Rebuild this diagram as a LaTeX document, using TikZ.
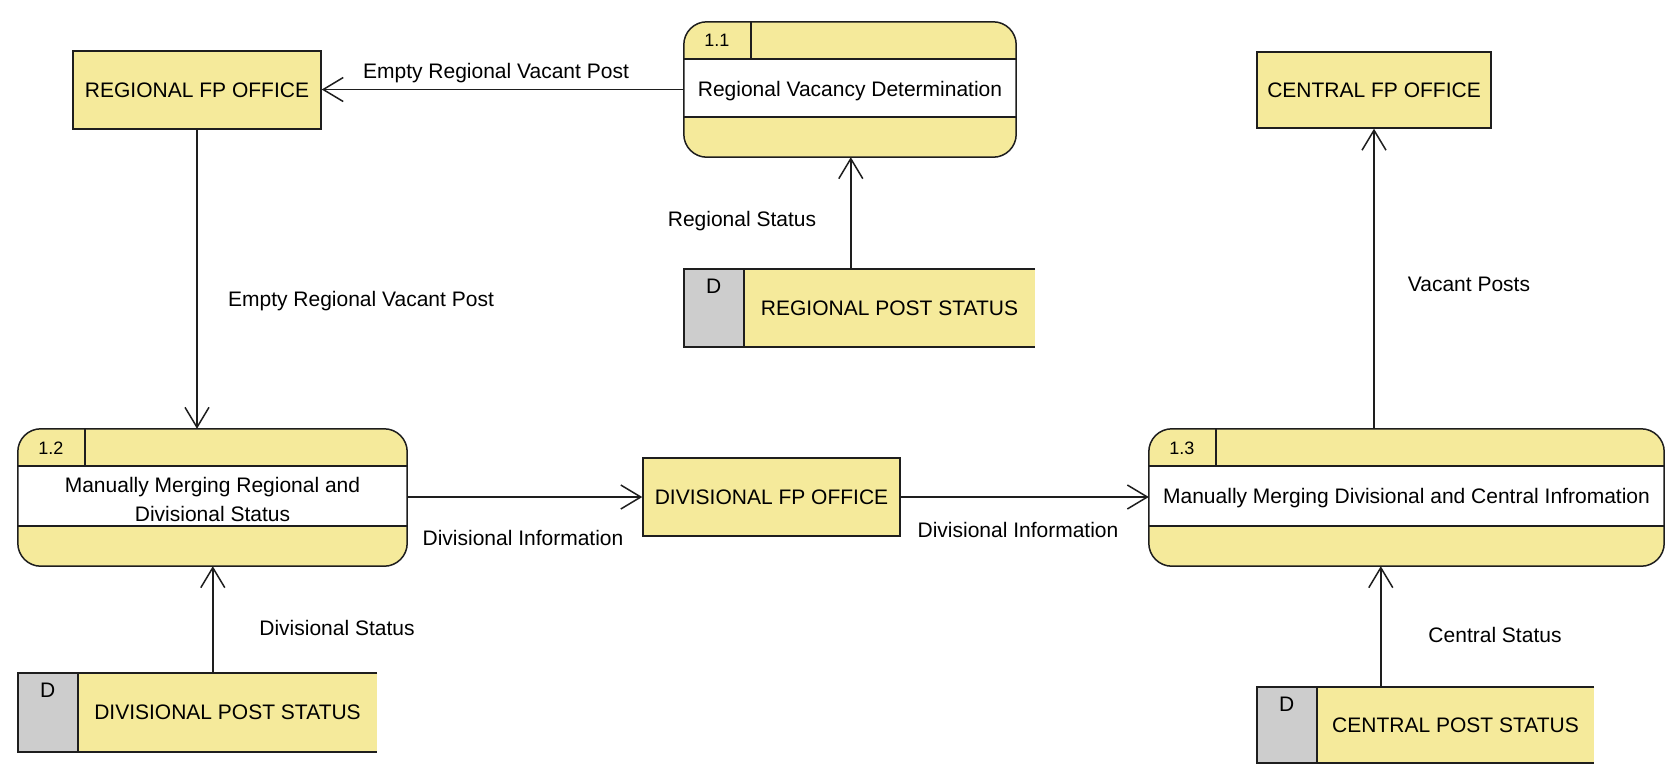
\documentclass[tikz,border=0pt]{standalone}
\usepackage{fontspec}
\setmainfont{Liberation Sans}
\usetikzlibrary{arrows.meta}
\definecolor{fy}{RGB}{245,234,155}
\definecolor{dg}{RGB}{205,205,205}
\definecolor{ln}{RGB}{30,30,30}

\newcommand\mkproc[5]{%
  \node[proc, minimum width=#3, minimum height=#4, rounded corners=23pt] (#1) at (#2) {};
  \fill[white] ([yshift=-37pt]#1.north west) rectangle ([yshift=40pt]#1.south east);
  \draw[bline] ([yshift=-37pt]#1.north west) -- ([yshift=-37pt]#1.north east);
  \draw[bline] ([yshift=40pt]#1.south west) -- ([yshift=40pt]#1.south east);
  \draw[bline] ([xshift=67pt]#1.north west) -- ([xshift=67pt,yshift=-37pt]#1.north west);
  \node[num] (#1n) at ([xshift=33pt,yshift=-19pt]#1.north west) {#5};
  \draw[bline, rounded corners=23pt] (#1.north west) rectangle (#1.south east);
}
\newcommand\mkstore[5]{%
  \node[store, minimum width=#3, minimum height=#4] (#1) at (#2) {};
  \fill[dg] (#1.north west) rectangle ([xshift=60pt]#1.south west);
  \draw[bline] (#1.north east) -- (#1.north west) -- (#1.south west) -- (#1.south east);
  \draw[bline] ([xshift=60pt]#1.north west) -- ([xshift=60pt]#1.south west);
  \node[txt] (#1d) at ([xshift=30pt,yshift=-17pt]#1.north west) {D};
  \node[txt] (#1t) at ([xshift=30pt]#1.center) {#5};
}

\begin{document}
\begin{tikzpicture}[x=1pt,y=-1pt,
  txt/.style={font=\fontsize{21}{29}\selectfont, text=black, inner sep=0pt},
  ent/.style={txt, draw=ln, fill=fy, line width=1.5pt},
  proc/.style={fill=fy, inner sep=0pt},
  store/.style={fill=fy, inner sep=0pt},
  lbl/.style={txt, anchor=base},
  num/.style={font=\fontsize{18}{20}\selectfont, inner sep=0pt},
  bline/.style={draw=ln, line width=1.5pt},
  flow/.style={draw=ln, line width=1.5pt, -{Straight Barb[length=20pt,width=24pt,line width=1.5pt]}}
]
\useasboundingbox (0,0) rectangle (1670,769);
\fill[white] (0,0) rectangle (1670,769);

% processes
\mkproc{p11}{850,89.5}{332pt}{135pt}{1.1}
\mkproc{p12}{212.5,497.5}{389pt}{137pt}{1.2}
\mkproc{p13}{1406.5,497.5}{515pt}{137pt}{1.3}
\node[txt, anchor=base] (p11t) at ([yshift=-75pt]p11.north) {Regional Vacancy Determination};
\node[txt, align=center] (p12t) at ([yshift=-2pt]p12.center) {Manually Merging Regional and\\Divisional Status};
\node[txt, anchor=base] (p13t) at ([yshift=-75pt]p13.north) {Manually Merging Divisional and Central Infromation};

% external entities
\node[ent, minimum width=248pt, minimum height=78pt] (rfp) at (197,90) {REGIONAL FP OFFICE};
\node[ent, minimum width=234pt, minimum height=76pt] (cfp) at (1374,90) {CENTRAL FP OFFICE};
\node[ent, minimum width=257pt, minimum height=78pt] (dfp) at (771.5,497) {DIVISIONAL FP OFFICE};

% data stores
\mkstore{rst}{859.5,308}{351pt}{78pt}{REGIONAL POST STATUS}
\mkstore{dst}{197.5,712.5}{359pt}{79pt}{DIVISIONAL POST STATUS}
\mkstore{cst}{1425.5,725}{337pt}{76pt}{CENTRAL POST STATUS}

% flows
\draw[flow] (p11.west) -- (p11.west -| rfp.east);
\draw[flow] (rfp.south) -- (rfp.south |- p12.north);
\draw[flow] ([xshift=167pt]rst.north west) -- ([xshift=167pt]rst.north west |- p11.south);
\draw[flow] (p12.east |- dfp.west) -- (dfp.west);
\draw[flow] (dfp.east) -- (dfp.east -| p13.west);
\draw[flow] (cfp.south |- p13.north) -- (cfp.south);
\draw[flow] ([xshift=124pt]cst.north west) -- ([xshift=124pt]cst.north west |- p13.south);
\draw[flow] ([xshift=195pt]dst.north west) -- ([xshift=195pt]dst.north west |- p12.south);

% labels
\node[lbl] (l1) at (496,78) {Empty Regional Vacant Post};
\node[lbl] (l2) at (361,306) {Empty Regional Vacant Post};
\node[lbl] (l3) at (742,226) {Regional Status};
\node[lbl] (l4) at (523,545) {Divisional Information};
\node[lbl] (l5) at (1018,537) {Divisional Information};
\node[lbl] (l6) at (1469,291) {Vacant Posts};
\node[lbl] (l7) at (1495,642) {Central Status};
\node[lbl] (l8) at (337,635) {Divisional Status};
\end{tikzpicture}
\end{document}
